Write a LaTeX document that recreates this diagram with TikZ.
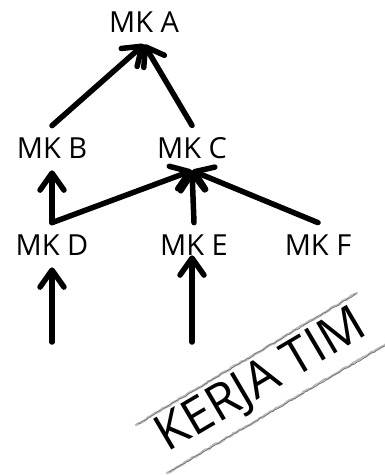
\documentclass[tikz,border=0pt]{standalone}
\usepackage{fontspec}
\setmainfont{Open Sans}
\usetikzlibrary{arrows.meta,decorations.pathmorphing}
\tikzset{
	mk/.style={inner sep=0pt, outer sep=12pt, font=\fontsize{29}{34}\selectfont},
	panah/.style={line width=5.5pt, line cap=round, -{Straight Barb[length=17pt, width=24pt, round]}},
	pensil/.style={draw=gray!55, line width=2.4pt, line cap=round, decorate, decoration={random steps, segment length=3pt, amplitude=.7pt}},
	pensiltipis/.style={draw=gray!80!black, line width=.5pt, decorate, decoration={random steps, segment length=2pt, amplitude=.6pt}}
}
\newcommand{\MK}[2][]{\node[mk, #1] (#2) {MK #2};}

\begin{document}
\begin{tikzpicture}[x=1pt, y=-1pt]
\useasboundingbox (0,0) rectangle (384,475);
\MK[at={(144,22)}]{A}
	\MK[at={(52,148)}]{B}
	\MK[at={(192,148)}]{C}
	
	\MK[at={(52,245)}]{D}
	\MK[at={(194,245)}]{E}
	\MK[at={(318,245)}]{F}
	
	\coordinate (d0) at (52,342);
	\coordinate (e0) at (192,342);
	
	\draw[panah] (B.north) -- (A.south);
	\draw[panah] (C.north) -- (A.south);
	
	\draw[panah] (D.north) -- (B.south);
	\draw[panah] (D.north) -- (C.south);
	\draw[panah] (E.north) -- (C.south);
	\draw[panah] (F.north) -- (C.south);
	
	\draw[panah] (d0) -- (D.south);
	\draw[panah] (e0) -- (e0 |- E.base);
	
	% stempel
	\node[rotate=30.5, inner sep=0pt, font=\fontsize{50}{54}\selectfont] (tim) at (262,382) {KERJA TIM};
	\draw[pensil] (136,425) -- (357,293);
	\draw[pensil] (167,473) -- (386,344);
	\draw[pensiltipis] (138,424) -- (356,294);
	\draw[pensiltipis] (169,472) -- (386,345);

\end{tikzpicture}
\end{document}
